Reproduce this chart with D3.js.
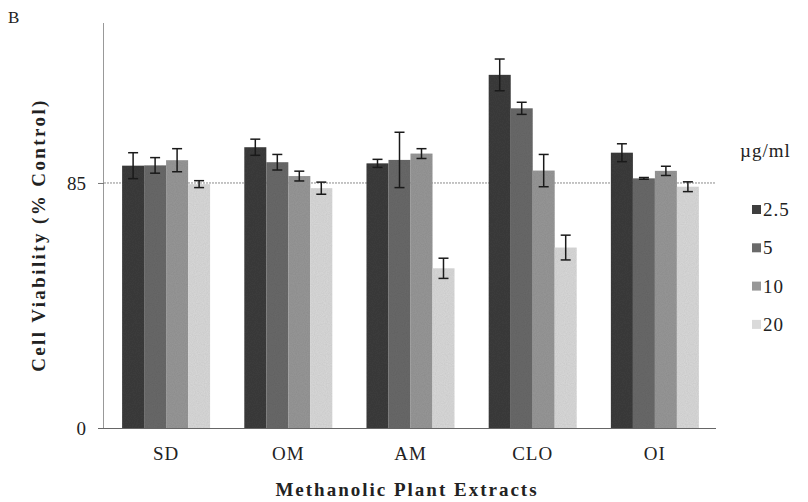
<!DOCTYPE html>
<html lang="en">
<head>
    <meta charset="UTF-8">
    <title>cell viability</title>
    <script src="https://d3js.org/d3.v7.min.js"></script>
    <style>
        body{ margin:0; background:#fff; }
        text{ font-family:"Liberation Serif","DejaVu Serif",serif; fill:#222; }
    </style>
</head>
<body>
<svg id="chart" width="808" height="502"></svg>
<script>
    // data
    let extracts = ["SD", "OM", "AM", "CLO", "OI"]
    let doses = ["2.5", "5", "10", "20"]
    let dose_2_5 = [91.0, 97.4, 91.8, 122.5, 95.5]
    let dose_5 = [91.1, 92.2, 93.0, 110.9, 86.6]
    let dose_10 = [92.9, 87.4, 95.2, 89.3, 89.2]
    let dose_20 = [84.6, 83.2, 55.4, 62.6, 83.7]
    let err_2_5 = [4.5, 2.8, 1.4, 5.5, 3.1]
    let err_5 = [2.7, 2.7, 9.6, 2.1, 0.3]
    let err_10 = [4.0, 1.7, 1.7, 5.6, 1.6]
    let err_20 = [1.2, 2.1, 3.5, 4.3, 1.7]
    let yTicks = [0, 85]
    let refLine = 85

    let values = [dose_2_5, dose_5, dose_10, dose_20]
    let errors = [err_2_5, err_5, err_10, err_20]
    let colors = ["#3e3e3e", "#6a6a6a", "#989898", "#dadada"]

    let svg = d3.select("#chart")

    // texture so the bars look like the printed figure
    let defs = svg.append("defs")
    let f = defs.append("filter").attr("id", "grain")
    f.append("feTurbulence").attr("type", "fractalNoise").attr("baseFrequency", 0.9)
        .attr("numOctaves", 1).attr("result", "noise")
    f.append("feColorMatrix").attr("in", "noise").attr("type", "matrix")
        .attr("values", "0 0 0 0 0  0 0 0 0 0  0 0 0 0 0  0 0 0 0.18 0").attr("result", "dots")
    f.append("feComposite").attr("in", "dots").attr("in2", "SourceGraphic").attr("operator", "in").attr("result", "d2")
    f.append("feMerge").selectAll("feMergeNode").data(["SourceGraphic", "d2"]).join("feMergeNode").attr("in", d => d)

    let x0 = d3.scaleBand().domain(extracts).range([105, 716]).paddingInner(0.28).paddingOuter(0.14)
    let x1 = d3.scaleBand().domain(doses).range([0, x0.bandwidth()])
    let y = d3.scaleLinear().domain([0, 140.5]).range([428, 23])

    // reference line
    svg.append("line")
        .attr("x1", 104).attr("x2", 716)
        .attr("y1", y(refLine)).attr("y2", y(refLine))
        .attr("stroke", "#8a8a8a").attr("stroke-width", 1).attr("stroke-dasharray", "2,1")

    // bars
    let groups = svg.selectAll("g.grp").data(extracts).join("g")
        .attr("class", "grp")
        .attr("transform", d => `translate(${x0(d)},0)`)

    doses.forEach(function (dose, k) {
        groups.append("rect")
            .attr("x", x1(dose))
            .attr("width", x1.bandwidth())
            .attr("y", (d, i) => y(values[k][i]))
            .attr("height", (d, i) => y(0) - y(values[k][i]))
            .attr("fill", colors[k])
            .attr("filter", "url(#grain)")
    })

    // error bars
    doses.forEach(function (dose, k) {
        let cx = x1(dose) + x1.bandwidth() / 2
        let eb = groups.append("g").attr("stroke", "#1a1a1a").attr("stroke-width", 1.5)
        eb.append("line")
            .attr("x1", cx).attr("x2", cx)
            .attr("y1", (d, i) => y(values[k][i] + errors[k][i]))
            .attr("y2", (d, i) => y(values[k][i] - errors[k][i]))
        eb.append("line")
            .attr("x1", cx - 5).attr("x2", cx + 5)
            .attr("y1", (d, i) => y(values[k][i] + errors[k][i]))
            .attr("y2", (d, i) => y(values[k][i] + errors[k][i]))
        eb.append("line")
            .attr("x1", cx - 5).attr("x2", cx + 5)
            .attr("y1", (d, i) => y(values[k][i] - errors[k][i]))
            .attr("y2", (d, i) => y(values[k][i] - errors[k][i]))
    })

    // y axis
    let yAxis = svg.append("g")
        .attr("transform", "translate(104,0)")
        .call(d3.axisLeft(y).tickValues(yTicks).tickSize(6).tickPadding(12))
    yAxis.select(".domain").attr("stroke", "#999").attr("d", `M-0.5,${y(0)}V${y(140.5)}`)
    yAxis.selectAll(".tick line").attr("stroke", "#777")
    yAxis.selectAll(".tick text").style("font-size", "19px").style("font-family", "Liberation Serif").attr("fill", "#333")

    // x axis
    let xAxis = svg.append("g")
        .attr("transform", `translate(0,${y(0)})`)
        .call(d3.axisBottom(x0).tickSize(0).tickPadding(19))
    xAxis.select(".domain").attr("stroke", "#666").attr("d", `M98,0.5H716`)
    xAxis.selectAll(".tick text").style("font-size", "19px").style("letter-spacing", "1px")
        .style("font-family", "Liberation Serif").attr("fill", "#222")

    // titles
    svg.append("text").attr("x", 8).attr("y", 23).style("font-size", "17px").text("B")

    svg.append("text")
        .attr("transform", "translate(45,235) rotate(-90)")
        .attr("text-anchor", "middle")
        .style("font-size", "19px").style("font-weight", "bold").style("letter-spacing", "2.4px")
        .text("Cell Viability (% Control)")

    svg.append("text")
        .attr("x", 407).attr("y", 496)
        .attr("text-anchor", "middle")
        .style("font-size", "19px").style("font-weight", "bold").style("letter-spacing", "2px")
        .text("Methanolic Plant Extracts")

    // legend
    let legend = svg.append("g").attr("transform", "translate(740,0)")
    legend.append("text").attr("x", 0).attr("y", 157).style("font-size", "19px").style("letter-spacing", "1px").text("µg/ml")
    let items = legend.selectAll("g.item").data(doses).join("g")
        .attr("class", "item")
        .attr("transform", (d, i) => `translate(12,${210 + i * 38.3})`)
    items.append("rect").attr("x", 0).attr("y", -5).attr("width", 9).attr("height", 9)
        .attr("fill", (d, i) => colors[i])
    items.append("text").attr("x", 11).attr("y", 6).style("font-size", "19px").style("letter-spacing", "1px").text(d => d)
</script>
</body>
</html>
